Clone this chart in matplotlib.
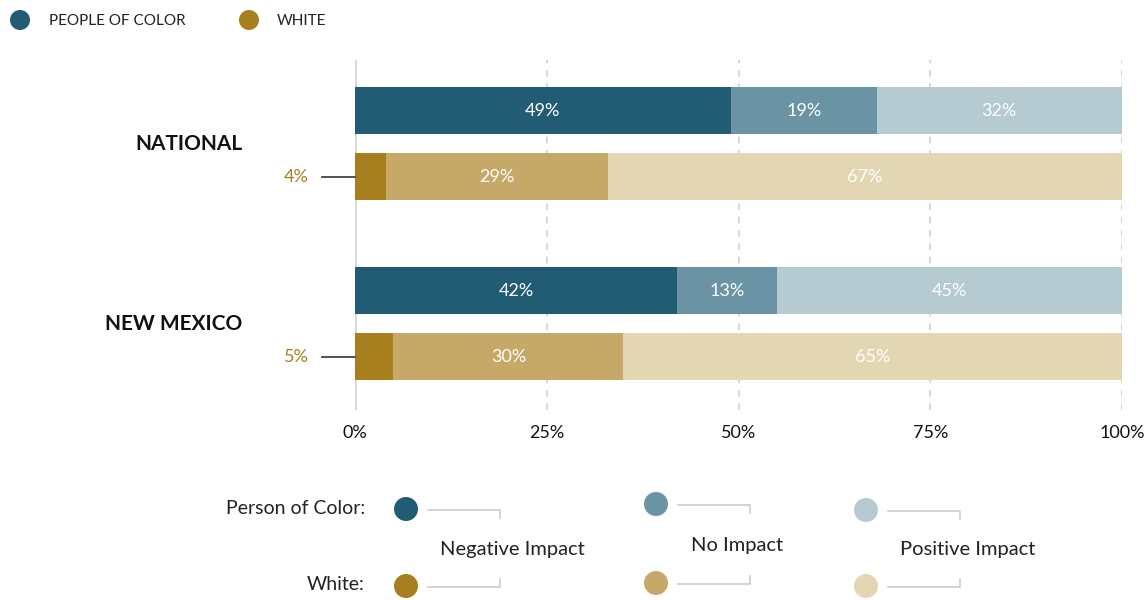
import numpy as np
import matplotlib.pyplot as plt
from matplotlib.patches import Circle

plt.rcParams["font.family"] = ["Lato", "DejaVu Sans"]

# data
groups = ["NATIONAL", "NEW MEXICO"]
series = ["People of Color", "White"]
impact = ["Negative Impact", "No Impact", "Positive Impact"]
poc_values = [[49, 19, 32], [42, 13, 45]]
white_values = [[4, 29, 67], [5, 30, 65]]
xticks = [0, 25, 50, 75, 100]
xtick_labels = ["0%", "25%", "50%", "75%", "100%"]

poc_colors = ["#215c74", "#6a94a3", "#b5cad1"]
white_colors = ["#a87f1e", "#c6a968", "#e3d6b2"]

W, H = 1147, 600
fig = plt.figure(figsize=(W / 100, H / 100), dpi=100)

# main axes: pixel-based vertical coordinates
ax_left, ax_right, ax_top, ax_bot = 355, 1122, 60, 410
ax = fig.add_axes([ax_left / W, 1 - ax_bot / H, (ax_right - ax_left) / W,
                   (ax_bot - ax_top) / H])
ax.set_xlim(0, 100)
ax.set_ylim(ax_bot, ax_top)
ax.axis("off")

for t in xticks[1:]:
    ax.axvline(t, color="#cfcfcf", lw=1.2, ls=(0, (4, 4)), zorder=0)
ax.axvline(0, color="#d6d6d6", lw=2, zorder=0)

bar_h = 47
first_center = 110.5
group_step = 180
pair_step = 66

for g, name in enumerate(groups):
    yc_poc = first_center + g * group_step
    yc_wh = yc_poc + pair_step
    for vals, cols, yc in [(poc_values[g], poc_colors, yc_poc),
                           (white_values[g], white_colors, yc_wh)]:
        left = 0
        for v, c in zip(vals, cols):
            ax.barh(yc, v, left=left, height=bar_h, color=c, lw=0, zorder=2)
            if v >= 10:
                ax.text(left + v / 2, yc + 1, f"{v}%", ha="center", va="center",
                        color="white", fontsize=13, zorder=3)
            left += v
    # small value callout for White negative
    wv = white_values[g][0]
    ax.plot([-4.3, 0], [yc_wh, yc_wh], color="#444444", lw=1.3,
            clip_on=False, zorder=3)
    ax.text(-7.7, yc_wh + 1, f"{wv}%", ha="center", va="center",
            color="#a87f1e", fontsize=13)
    ax.text(-14.7, (yc_poc + yc_wh) / 2 + 1, name,
            ha="right", va="center", fontsize=15, fontweight="bold",
            color="#111111")

# overlay axes in pixel coordinates
ov = fig.add_axes([0, 0, 1, 1])
ov.set_xlim(0, W)
ov.set_ylim(H, 0)
ov.axis("off")

for t, lab in zip(xticks, xtick_labels):
    px = ax_left + t / 100 * (ax_right - ax_left)
    ov.text(px, 433, lab, ha="center", va="center", fontsize=13,
            color="#111111")

# top legend
ov.add_patch(Circle((20, 20), 10, color=poc_colors[0], lw=0))
ov.text(49, 21, "PEOPLE OF COLOR", ha="left", va="center", fontsize=11,
        color="#222222")
ov.add_patch(Circle((249, 20), 10, color=white_colors[0], lw=0))
ov.text(277, 21, "WHITE", ha="left", va="center", fontsize=11,
        color="#222222")

# bottom legend
ov.text(365, 508, "Person of Color:", ha="right", va="center", fontsize=14,
        color="#222222")
ov.text(365, 585, "White:", ha="right", va="center", fontsize=14,
        color="#222222")
col_x = [406, 656, 866]
poc_y = [509, 504, 510]
wh_y = [586, 583, 586]
label_pos = [(512, 549), (737, 546), (968, 549)]
for i, lab in enumerate(impact):
    cx = col_x[i]
    ov.add_patch(Circle((cx, poc_y[i]), 12, color=poc_colors[i], lw=0))
    ov.add_patch(Circle((cx, wh_y[i]), 12, color=white_colors[i], lw=0))
    x0, x1 = cx + 22, cx + 94
    ov.plot([x0, x1, x1], [poc_y[i] + 1, poc_y[i] + 1, poc_y[i] + 9],
            color="#cccccc", lw=1.2)
    ov.plot([x0, x1, x1], [wh_y[i] + 1, wh_y[i] + 1, wh_y[i] - 7],
            color="#cccccc", lw=1.2)
    ov.text(label_pos[i][0], label_pos[i][1], lab, ha="center", va="center",
            fontsize=14.5, color="#222222")

fig.savefig("out.png", dpi=100, facecolor="white")
